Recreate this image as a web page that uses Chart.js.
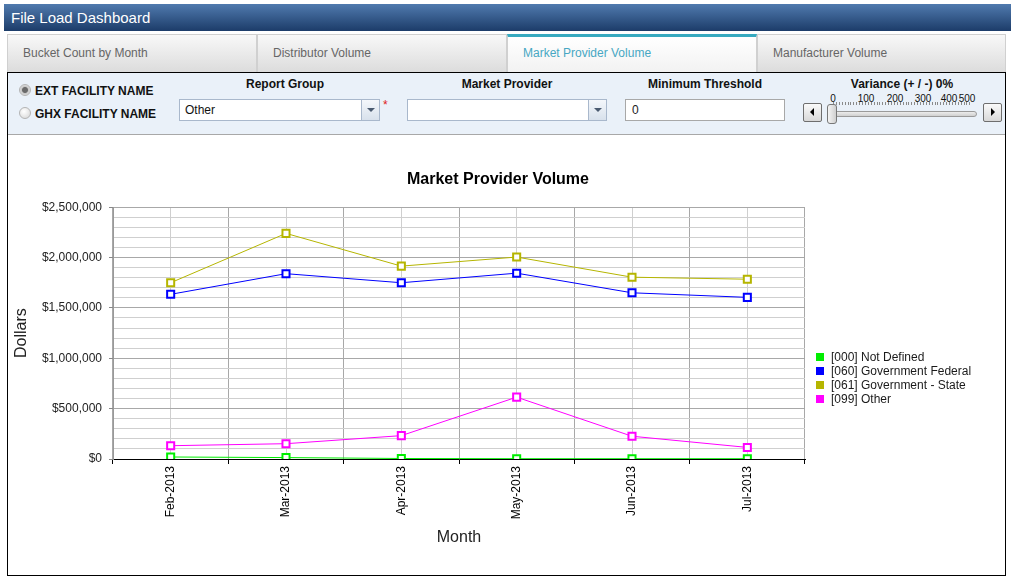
<!DOCTYPE html>
<html>
<head>
<meta charset="utf-8">
<title>File Load Dashboard</title>
<script src="https://cdn.jsdelivr.net/npm/chart.js@4.4.0/dist/chart.umd.min.js"></script>
<style>
    body { margin: 0; width: 1011px; height: 578px; position: relative; overflow: hidden; background: #fff; font-family: Arial, "Liberation Sans", sans-serif; }
    .abs { position: absolute; }
    .header { left: 4px; top: 4px; width: 1007px; height: 27px; background: linear-gradient(#507aae, #1c3c69); color: #fff; font-size: 15px; line-height: 27px; }
    .header span { margin-left: 7px; }
    .tab { top: 34px; height: 38px; width: 250px; box-sizing: border-box; border: 1px solid #d0d0d0; border-bottom: none; background: linear-gradient(#f8f8f8, #dcdcdc); color: #666; font-size: 12px; line-height: 37px; padding-left: 15px; }
    .tab.active { background: linear-gradient(#ffffff, #f2f2f2); color: #47a7c3; border-top: 3px solid #36aac0; line-height: 33px; }
    .panel { left: 7px; top: 72px; width: 999px; height: 504px; box-sizing: border-box; border: 1px solid #000; }
    .controls { left: 8px; top: 73px; width: 997px; height: 62px; box-sizing: border-box; background: #eaf1f9; border-bottom: 1px solid #a8a8a8; }
    .radio { width: 12px; height: 12px; box-sizing: border-box; border-radius: 50%; border: 1px solid #b4b4b4; background: radial-gradient(circle at 40% 35%, #ffffff, #d4d4d4); }
    .radio.checked { background: radial-gradient(circle at 50% 50%, #6a6a6a 0 2.5px, #c8c8c8 3.5px, #e8e8e8 6px); }
    .rlabel { font-size: 12px; font-weight: bold; color: #111; }
    .clabel { font-size: 12px; font-weight: bold; color: #111; text-align: center; width: 200px; }
    .select { height: 22px; box-sizing: border-box; border: 1px solid #a9b8cc; background: #fff; font-size: 12px; line-height: 21px; padding-left: 5px; color: #111; }
    .drop { right: 0; top: 0; width: 18px; height: 20px; box-sizing: border-box; border-left: 1px solid #a9b8cc; background: linear-gradient(#f4f7fb, #d8e1ec); }
    .drop::after { content: ''; position: absolute; left: 5px; top: 8px; border-left: 4px solid transparent; border-right: 4px solid transparent; border-top: 4px solid #4a5a70; }
    .input { height: 22px; box-sizing: border-box; border: 1px solid #a8a8a8; background: #fff; font-size: 12px; line-height: 21px; padding-left: 6px; color: #222; }
    .sbtn { top: 103px; width: 19px; height: 19px; box-sizing: border-box; border: 1px solid #6e6e6e; border-radius: 2px; background: linear-gradient(#fafafa, #d8d8d8); }
    .sbtn.l::after { content: ''; position: absolute; left: 6px; top: 4px; border-top: 4px solid transparent; border-bottom: 4px solid transparent; border-right: 4px solid #000; }
    .sbtn.r::after { content: ''; position: absolute; left: 7px; top: 4px; border-top: 4px solid transparent; border-bottom: 4px solid transparent; border-left: 4px solid #000; }
    .track { left: 828px; top: 111px; width: 149px; height: 6px; box-sizing: border-box; border: 1px solid #9a9a9a; border-radius: 3px; background: linear-gradient(#ececec, #d0d0d0); }
    .scale { left: 833px; top: 102px; width: 137px; height: 3px; background: repeating-linear-gradient(90deg, #8a8a8a 0 1px, transparent 1px 2.9px); }
    .thumb { left: 827px; top: 104px; width: 10px; height: 20px; box-sizing: border-box; border: 1px solid #777; border-radius: 3px; background: linear-gradient(90deg, #f4f4f4, #cfcfcf); }
    .snum { top: 93px; font-size: 10px; color: #111; width: 24px; text-align: center; }
    .legend { left: 816px; top: 350px; font-size: 12px; color: #1a1a1a; }
    .legend div { height: 14px; line-height: 14px; white-space: nowrap; }
    .legend i { display: inline-block; width: 8px; height: 8px; margin-right: 7px; }
    #chartCanvas { position: absolute; left: 8px; top: 135px; }
</style>
</head>
<body>
<div class="abs header"><span>File Load Dashboard</span></div>

<div class="abs tab" style="left:7px">Bucket Count by Month</div>
<div class="abs tab" style="left:257px">Distributor Volume</div>
<div class="abs tab active" style="left:507px">Market Provider Volume</div>
<div class="abs tab" style="left:757px; width:249px">Manufacturer Volume</div>

<div class="abs panel"></div>
<div class="abs controls"></div>

<div class="abs radio checked" style="left:19px; top:84px"></div>
<div class="abs rlabel" style="left:35px; top:84px">EXT FACILITY NAME</div>
<div class="abs radio" style="left:19px; top:107px"></div>
<div class="abs rlabel" style="left:35px; top:107px">GHX FACILITY NAME</div>

<div class="abs clabel" style="left:185px; top:77px">Report Group</div>
<div class="abs select" style="left:179px; top:99px; width:201px">Other<div class="abs drop"></div></div>
<div class="abs" style="left:383px; top:98px; color:#e02020; font-size:12px">*</div>

<div class="abs clabel" style="left:407px; top:77px">Market Provider</div>
<div class="abs select" style="left:407px; top:99px; width:200px"><div class="abs drop"></div></div>

<div class="abs clabel" style="left:605px; top:77px">Minimum Threshold</div>
<div class="abs input" style="left:625px; top:99px; width:160px">0</div>

<div class="abs clabel" style="left:802px; top:77px">Variance (+ / -) 0%</div>
<div class="abs sbtn l" style="left:803px"></div>
<div class="abs scale"></div>
<div class="abs track"></div>
<div class="abs thumb"></div>
<div class="abs sbtn r" style="left:983px"></div>
<div class="abs snum" style="left:821px">0</div>
<div class="abs snum" style="left:854px">100</div>
<div class="abs snum" style="left:883px">200</div>
<div class="abs snum" style="left:911px">300</div>
<div class="abs snum" style="left:937px">400</div>
<div class="abs snum" style="left:955px">500</div>

<canvas id="chartCanvas" width="997" height="439"></canvas>
<div class="abs legend" id="legend"></div>

<script>
// Chart data
const months = ['Feb-2013', 'Mar-2013', 'Apr-2013', 'May-2013', 'Jun-2013', 'Jul-2013'];
const notDefined = [20000, 14000, 5000, 3000, 3000, 3000];
const govFederal = [1635000, 1840000, 1750000, 1845000, 1650000, 1605000];
const govState = [1750000, 2240000, 1915000, 2005000, 1805000, 1785000];
const other = [132000, 152000, 232000, 614000, 226000, 115000];
const seriesNames = ['[000] Not Defined', '[060] Government Federal', '[061] Government - State', '[099] Other'];
const seriesColors = ['#00ee00', '#0000ff', '#b5b500', '#ff00ff'];
const yMax = 2500000;
const yStep = 100000;
const yLabelStep = 500000;

Chart.defaults.font.family = 'Arial, "Liberation Sans", sans-serif';
Chart.defaults.font.size = 12;
Chart.defaults.color = '#222';

/**
 * Build a line dataset with square markers
 */
function makeSeries(label, data, color) {
    return {
        label: label,
        data: data,
        borderColor: color,
        backgroundColor: color,
        borderWidth: 1,
        pointStyle: 'rect',
        pointRadius: 5,
        pointBorderWidth: 2,
        pointBackgroundColor: '#ffffff',
        pointBorderColor: color,
        tension: 0,
    };
}

const datasets = [
    makeSeries(seriesNames[0], notDefined, seriesColors[0]),
    makeSeries(seriesNames[1], govFederal, seriesColors[1]),
    makeSeries(seriesNames[2], govState, seriesColors[2]),
    makeSeries(seriesNames[3], other, seriesColors[3]),
];

const isMajor = (v) => v % yLabelStep === 0;

const chart = new Chart(document.getElementById('chartCanvas'), {
    type: 'line',
    data: { labels: months, datasets: datasets },
    options: {
        responsive: false,
        animation: false,
        devicePixelRatio: 1,
        layout: { padding: { left: 0, right: 17, top: 0, bottom: 23 } },
        plugins: {
            legend: { display: false },
            tooltip: { enabled: false },
            title: {
                display: true,
                text: 'Market Provider Volume',
                color: '#000',
                font: { size: 16, weight: 'bold' },
                padding: { top: 35, bottom: 18 },
            },
        },
        scales: {
            x: {
                type: 'category',
                position: 'bottom',
                offset: true,
                grid: { offset: true, color: '#a8a8a8', tickColor: '#000', tickLength: 5 },
                border: { color: '#000', width: 1 },
                ticks: { color: '#000', minRotation: 90, maxRotation: 90, padding: 2, autoSkip: false },
                title: { display: true, text: 'Month', color: '#222', font: { size: 16 }, padding: { top: 4, bottom: 4 } },
                afterFit: (scale) => { scale.height = 92; },
            },
            // lighter lines through the middle of each month
            x2: {
                type: 'category',
                position: 'bottom',
                offset: true,
                grid: { offset: false, color: '#cfcfcf', drawTicks: false },
                border: { display: false },
                ticks: { display: false },
                afterFit: (scale) => { scale.height = 0; },
            },
            y: {
                position: 'left',
                min: 0,
                max: yMax,
                grid: {
                    color: (ctx) => isMajor(ctx.tick.value) ? '#a8a8a8' : '#cfcfcf',
                    tickColor: (ctx) => isMajor(ctx.tick.value) ? '#888' : 'rgba(0,0,0,0)',
                    tickLength: 4,
                },
                border: { color: '#999', width: 1 },
                ticks: {
                    stepSize: yStep,
                    autoSkip: false,
                    padding: 7,
                    color: '#222',
                    callback: (value) => isMajor(value) ? '$' + value.toLocaleString('en-US') : '',
                },
                title: { display: true, text: 'Dollars', color: '#222', font: { size: 16 }, padding: { top: 4, bottom: 4 } },
                afterFit: (scale) => { scale.width = 105; },
            },
            // empty right-hand box that reserves room for the legend
            yRight: {
                position: 'right',
                min: 0,
                max: 1,
                grid: { display: false },
                border: { display: false },
                ticks: { display: false },
                afterFit: (scale) => { scale.width = 183; },
            },
        },
    },
});

/**
 * Build the legend from the chart's datasets
 */
function buildLegend() {
    const legend = document.getElementById('legend');
    chart.data.datasets.forEach(ds => {
        const row = document.createElement('div');
        row.innerHTML = `<i style="background:${ds.borderColor}"></i>${ds.label}`;
        legend.appendChild(row);
    });
}

buildLegend();
</script>
</body>
</html>
